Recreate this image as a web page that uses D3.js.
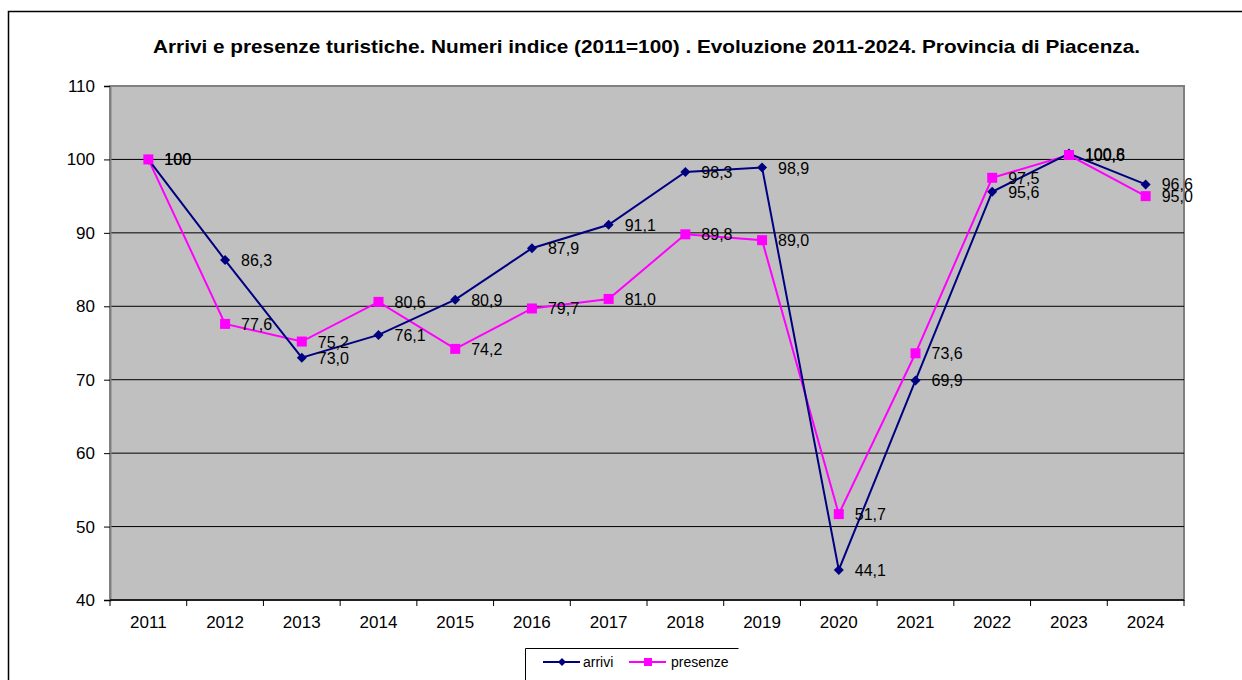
<!DOCTYPE html>
<html>
<head>
<meta charset="utf-8">
<script src="https://cdn.jsdelivr.net/npm/d3@7"></script>
<style>
  body { margin: 0; background: #fff; }
  text { font-family: Arial, "Liberation Sans", sans-serif; }
</style>
</head>
<body>
<div id="chart"></div>
<script>
// data
var years = ["2011", "2012", "2013", "2014", "2015", "2016", "2017",
             "2018", "2019", "2020", "2021", "2022", "2023", "2024"];
var arrivi = [100, 86.3, 73.0, 76.1, 80.9, 87.9, 91.1, 98.3, 98.9, 44.1, 69.9, 95.6, 100.8, 96.6];
var presenze = [100, 77.6, 75.2, 80.6, 74.2, 79.7, 81.0, 89.8, 89.0, 51.7, 73.6, 97.5, 100.6, 95.0];
var yTicks = [40, 50, 60, 70, 80, 90, 100, 110];

var W = 1242, H = 680;
var plot = { left: 110, top: 86, right: 1184, bottom: 600 };

var svg = d3.select("#chart").append("svg")
  .attr("width", W)
  .attr("height", H);

// outer frame (runs past the right and bottom edges)
svg.append("rect")
  .attr("x", 8.5).attr("y", 11.5)
  .attr("width", 1260).attr("height", 700)
  .attr("fill", "none").attr("stroke", "#000").attr("stroke-width", 1.5);

var x = d3.scaleBand().domain(years).range([plot.left, plot.right]);
var y = d3.scaleLinear().domain([40, 110]).range([plot.bottom, plot.top]);
var cx = function (i) { return x(years[i]) + x.bandwidth() / 2; };

// plot background
svg.append("rect")
  .attr("x", plot.left).attr("y", plot.top)
  .attr("width", plot.right - plot.left).attr("height", plot.bottom - plot.top)
  .attr("fill", "#c0c0c0")
  .attr("stroke", "#808080").attr("stroke-width", 2);

// grid lines
svg.append("g")
  .selectAll("line")
  .data(yTicks.filter(function (d) { return d > 40 && d < 110; }))
  .enter().append("line")
  .attr("x1", plot.left).attr("x2", plot.right)
  .attr("y1", function (d) { return y(d); })
  .attr("y2", function (d) { return y(d); })
  .attr("stroke", "#000").attr("stroke-width", 1);

// y axis
var yAxis = svg.append("g")
  .attr("transform", "translate(" + plot.left + ",0)")
  .call(d3.axisLeft(y).tickValues(yTicks).tickSize(6).tickPadding(9));
yAxis.select(".domain").attr("stroke", "#808080").attr("stroke-width", 2);
yAxis.selectAll("text").attr("font-size", 17).attr("fill", "#000")
  .attr("font-family", "Arial, 'Liberation Sans', sans-serif");

// x axis: ticks on band edges, labels centred
var xAxisG = svg.append("g")
  .attr("transform", "translate(0," + plot.bottom + ")");
xAxisG.append("line")
  .attr("x1", plot.left).attr("x2", plot.right)
  .attr("stroke", "#000").attr("stroke-width", 1.5);
var edges = years.map(function (d) { return x(d); }).concat([plot.right]);
xAxisG.selectAll(".tk").data(edges).enter().append("line")
  .attr("x1", function (d) { return d; }).attr("x2", function (d) { return d; })
  .attr("y1", 0).attr("y2", 6)
  .attr("stroke", "#000");
xAxisG.selectAll(".lb").data(years).enter().append("text")
  .attr("x", function (d) { return x(d) + x.bandwidth() / 2; })
  .attr("y", 28)
  .attr("text-anchor", "middle")
  .attr("font-size", 17)
  .text(function (d) { return d; });

// lines
var line = d3.line()
  .x(function (d, i) { return cx(i); })
  .y(function (d) { return y(d); });

svg.append("path").datum(presenze)
  .attr("d", line).attr("fill", "none")
  .attr("stroke", "#ff00ff").attr("stroke-width", 2);
svg.append("path").datum(arrivi)
  .attr("d", line).attr("fill", "none")
  .attr("stroke", "#000080").attr("stroke-width", 2);

// markers
svg.append("g").selectAll("path").data(arrivi).enter().append("path")
  .attr("d", "M0,-5L5,0L0,5L-5,0Z")
  .attr("transform", function (d, i) { return "translate(" + cx(i) + "," + y(d) + ")"; })
  .attr("fill", "#000080");
svg.append("g").selectAll("rect").data(presenze).enter().append("rect")
  .attr("x", function (d, i) { return cx(i) - 5; })
  .attr("y", function (d) { return y(d) - 5; })
  .attr("width", 10).attr("height", 10)
  .attr("fill", "#ff00ff");

// value labels
function fmt(v) {
  return v === 100 ? "100" : v.toFixed(1).replace(".", ",");
}
function labels(series) {
  svg.append("g").selectAll("text").data(series).enter().append("text")
    .attr("x", function (d, i) { return cx(i) + 16; })
    .attr("y", function (d) { return y(d) + 6; })
    .attr("font-size", 16)
    .attr("fill", "#000")
    .text(fmt);
}
labels(presenze);
labels(arrivi);

// title
svg.append("text")
  .attr("x", 153).attr("y", 53)
  .attr("textLength", 987).attr("lengthAdjust", "spacingAndGlyphs")
  .attr("font-size", 19).attr("font-weight", "bold")
  .text("Arrivi e presenze turistiche. Numeri indice (2011=100) . Evoluzione 2011-2024. Provincia di Piacenza.");

// legend
var leg = svg.append("g");
leg.append("path")
  .attr("d", "M525.5,690V648.5H738.5")
  .attr("fill", "none").attr("stroke", "#000").attr("stroke-width", 1);
leg.append("line").attr("x1", 543).attr("x2", 580).attr("y1", 662).attr("y2", 662)
  .attr("stroke", "#000080").attr("stroke-width", 2);
leg.append("path").attr("d", "M0,-4L4,0L0,4L-4,0Z")
  .attr("transform", "translate(562,662)").attr("fill", "#000080");
leg.append("text").attr("x", 583).attr("y", 667).attr("font-size", 14).text("arrivi");
leg.append("line").attr("x1", 629).attr("x2", 666).attr("y1", 662).attr("y2", 662)
  .attr("stroke", "#ff00ff").attr("stroke-width", 2);
leg.append("rect").attr("x", 644).attr("y", 658).attr("width", 8).attr("height", 8)
  .attr("fill", "#ff00ff");
leg.append("text").attr("x", 671).attr("y", 667).attr("font-size", 14).text("presenze");
</script>
</body>
</html>
